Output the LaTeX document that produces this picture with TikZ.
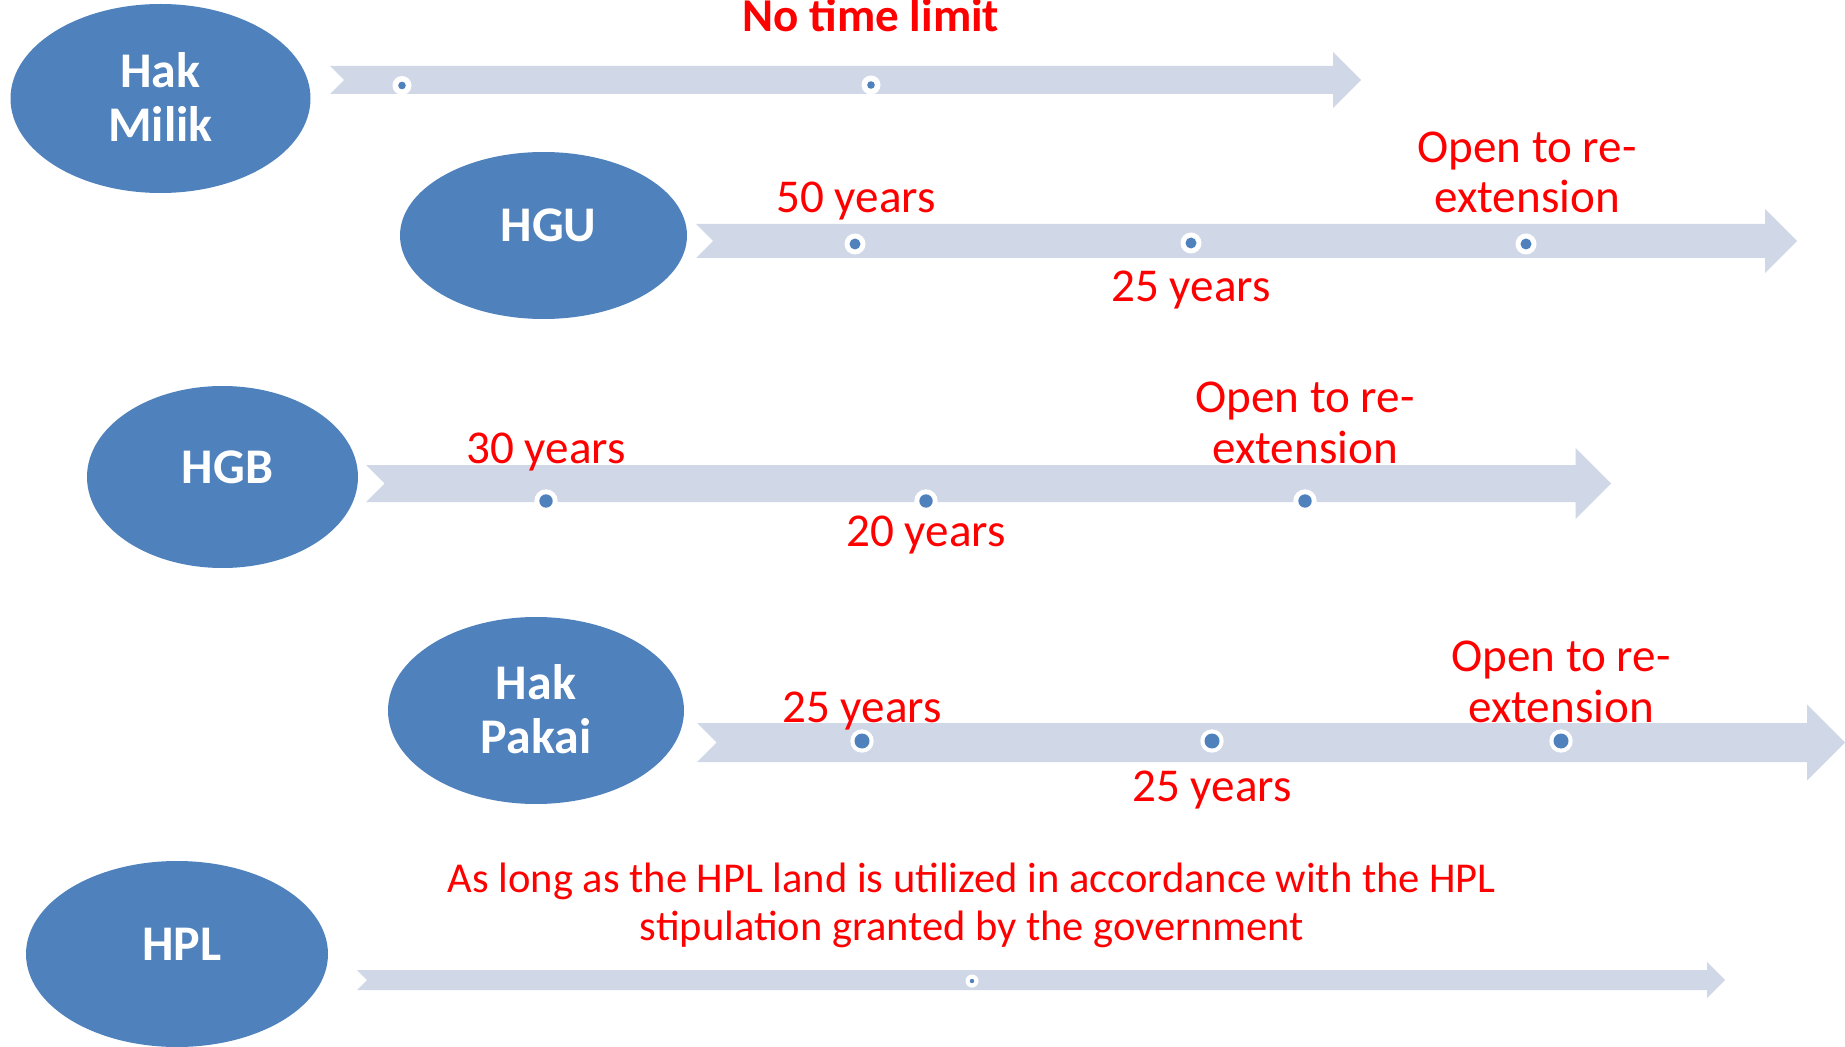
\documentclass[tikz,border=0pt]{standalone}
\usepackage{fontspec}
\setmainfont{Carlito}
\usetikzlibrary{shapes.geometric}

\definecolor{ovalblue}{HTML}{4F81BD}
\definecolor{barblue}{HTML}{D0D8E8}
\definecolor{notered}{HTML}{FF0000}

\begin{document}
\begin{tikzpicture}[x=0.1mm, y=-0.1mm,
	oval/.style={ellipse, fill=ovalblue, text=white, inner sep=0pt, outer sep=0pt,
		font=\fontsize{14.2}{15.4}\selectfont\bfseries, align=center},
	oneline/.style={text height=3.2mm, text depth=2mm},
	note/.style={text=notered, inner sep=0pt, anchor=base, align=center,
		font=\fontsize{13.4}{14.5}\selectfont},
	bar/.style={fill=barblue},
	dotring/.style={fill=white},
	dotcore/.style={fill=ovalblue}]

	% ---- page

	\useasboundingbox (0,0) rectangle (1845,1047);

	% ---- timeline bars (tail, tip, centre, half shaft, half head)

	\foreach \tl/\tp/\cy/\sh/\hh in {330/1361/80/14/28, 696/1797/241/17/32,
		366/1611/483.5/18.5/35.5, 697/1845/742.5/19.5/38, 357/1725/980/10/18} {
		\fill[bar] (\tl,\cy-\sh) -- (\tp-\hh,\cy-\sh) -- (\tp-\hh,\cy-\hh) -- (\tp,\cy)
			-- (\tp-\hh,\cy+\hh) -- (\tp-\hh,\cy+\sh) -- (\tl,\cy+\sh) -- (\tl+\sh,\cy) -- cycle;
	}

	% ---- markers

	\foreach \x/\y/\ro/\ri in {402/85.5/9.5/3.8, 871/85/9.5/3.8,
		855/244/10.5/5.5, 1191/243/10.5/5.5, 1526/244/10.5/5.5,
		546/501/11.7/6.7, 926/501/11.7/6.7, 1305/501/11.7/6.7,
		862/741/11.7/7.5, 1212/741/11.7/7.5, 1561/741/11.7/7.5,
		972/981/6.5/2.2} {
		\fill[dotring] (\x,\y) circle (\ro);
		\fill[dotcore] (\x,\y) circle (\ri);
	}

	% ---- rights

	\node[oval, text depth=0.25mm, minimum width=30mm, minimum height=18.9mm] (milik) at (160.5,98.5) {Hak\\Milik};
	\node[oval, oneline, minimum width=28.7mm, minimum height=16.7mm] (hgu) at (543.5,235.5) {\hspace*{1mm}HGU};
	\node[oval, oneline, minimum width=27.1mm, minimum height=18.2mm] (hgb) at (222.5,477) {\hspace*{1mm}HGB};
	\node[oval, text depth=0.25mm, minimum width=29.6mm, minimum height=18.7mm] (pakai) at (536,710.5) {Hak\\Pakai};
	\node[oval, oneline, minimum width=30.2mm, minimum height=18.6mm] (hpl) at (177,954) {\hspace*{1mm}HPL};

	% ---- durations

	\node[note, font=\fontsize{13.4}{14.5}\selectfont\bfseries] (nolimit) at (871,32) {No time limit};

	\node[note] (hgufirst) at (856,213) {50 years};
	\node[note] (hgunext) at (1191,302) {25 years};
	\node[note] (hguopen) at (1527,213) {Open to re-\\extension};

	\node[note] (hgbfirst) at (546,463.5) {30 years};
	\node[note] (hgbnext) at (926,546) {20 years};
	\node[note] (hgbopen) at (1305,463.5) {Open to re-\\extension};

	\node[note] (pakaifirst) at (862,722.5) {25 years};
	\node[note] (pakainext) at (1212,801) {25 years};
	\node[note] (pakaiopen) at (1561,722.5) {Open to re-\\extension};

	\node[note, font=\fontsize{12.1}{13.4}\selectfont] (hplterm) at (972,940)
		{As long as the HPL land is utilized in accordance with the HPL\\stipulation granted by the government};

\end{tikzpicture}
\end{document}
